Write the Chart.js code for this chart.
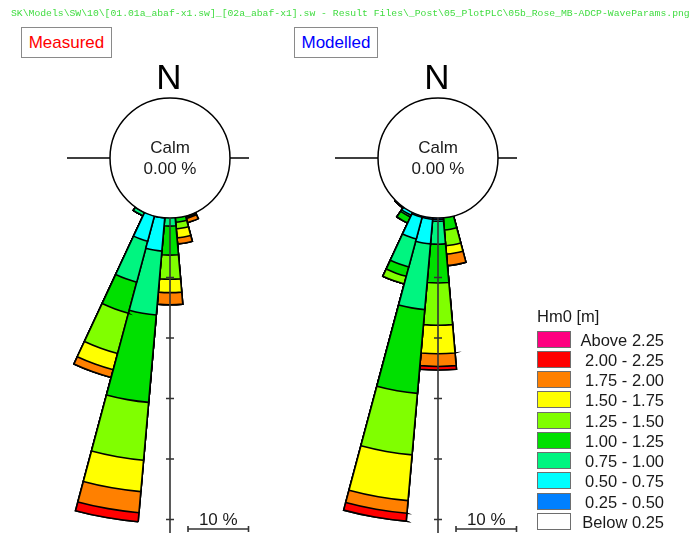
<!DOCTYPE html>
<html>
<head>
<meta charset="utf-8">
<script src="https://cdn.jsdelivr.net/npm/chart.js@4.4.1/dist/chart.umd.min.js"></script>
<style>
  html, body { margin: 0; padding: 0; background: #fff; }
  #page { position: relative; width: 692px; height: 533px; overflow: hidden;
          font-family: 'Liberation Sans', Arial, sans-serif; }
  #page canvas { position: absolute; left: 0; top: 0; }
  .t { position: absolute; line-height: 1; white-space: nowrap; }
  .box { position: absolute; box-sizing: border-box; border: 1.5px solid #8a8a8a;
         display: flex; align-items: center; justify-content: center;
         font-size: 17px; line-height: 1; background: #fff; }
  .sw { position: absolute; box-sizing: border-box; border: 1px solid #6e6e6e; width: 34px; height: 17px; }
  #path { left: 11px; top: 8.5px; font-family: 'Liberation Mono', 'DejaVu Sans Mono', monospace;
          font-size: 9.75px; color: #40dc40; }
</style>
</head>
<body>
<div id="page">
  <canvas id="roseMeasured" width="692" height="533"></canvas>
  <canvas id="roseModelled" width="692" height="533"></canvas>
  <div class="t" id="path">SK\Models\SW\10\[01.01a_abaf-x1.sw]_[02a_abaf-x1].sw - Result Files\_Post\05_PlotPLC\05b_Rose_MB-ADCP-WaveParams.png</div>
  <div class="box" style="left:21px;top:27px;width:91px;height:31px;color:#ff0000;">Measured</div>
  <div class="box" style="left:294px;top:27px;width:84px;height:31px;color:#0000ff;">Modelled</div>
  <div id="overlay"></div>
</div>
<script>
// Direction sectors of the rose (10 degree bins, clockwise from north)
const directionLabels = ['0°', '10°', '20°', '30°', '40°', '50°', '60°', '70°', '80°', '90°',
  '100°', '110°', '120°', '130°', '140°', '150°', '160°', '170°', '180°', '190°',
  '200°', '210°', '220°', '230°', '240°', '250°', '260°', '270°', '280°', '290°',
  '300°', '310°', '320°', '330°', '340°', '350°'];

// Sectors holding any occurrence
const sectorDirections = [160, 170, 180, 190, 200, 210, 220];

// Wave height classes, Hm0 [m]
const hm0Classes = ['Below 0.25', '0.25 - 0.50', '0.50 - 0.75', '0.75 - 1.00', '1.00 - 1.25',
  '1.25 - 1.50', '1.50 - 1.75', '1.75 - 2.00', '2.00 - 2.25', 'Above 2.25'];
const hm0Colors = ['#ffffff', '#0080ff', '#00ffff', '#00f580', '#00e000',
  '#80ff00', '#ffff00', '#ff8000', '#ff0000', '#ff0080'];

// Measured: frequency of occurrence [%] per sector (160 ... 220 deg)
const measuredBelow025 = [0, 0, 0, 0, 0, 0, 0];
const measured025to050 = [0, 0, 0, 0.2, 0, 0, 0];
const measured050to075 = [0, 0, 0, 5.5, 4.5, 0.2, 0];
const measured075to100 = [0, 0, 1.5, 10.6, 7.0, 0.6, 0];
const measured100to125 = [0.2, 0.9, 4.8, 14.5, 5.3, 0, 0];
const measured125to150 = [0.2, 1.1, 4.0, 9.6, 6.9, 0, 0];
const measured150to175 = [0.2, 1.5, 2.2, 5.2, 2.8, 0, 0];
const measured175to200 = [0.7, 1.0, 2.0, 3.5, 1.3, 0, 0];
const measured200to225 = [0, 0, 0, 1.5, 0, 0, 0];
const measuredAbove225 = [0, 0, 0, 0, 0, 0, 0];

// Modelled: frequency of occurrence [%] per sector (160 ... 220 deg)
const modelledBelow025 = [0, 0, 0, 0, 0, 0, 0];
const modelled025to050 = [0, 0, 0.4, 0.4, 0.4, 0, 0.1];
const modelled050to075 = [0, 0, 0.3, 4.1, 3.7, 0.7, 0.2];
const modelled075to100 = [0, 0, 3.8, 10.9, 4.8, 0.3, 0];
const modelled100to125 = [0, 2.2, 6.4, 13.9, 1.6, 1.1, 0];
const modelled125to150 = [0, 2.6, 7.0, 10.2, 1.3, 0, 0];
const modelled150to175 = [0, 1.4, 4.7, 7.6, 0, 0, 0];
const modelled175to200 = [0, 1.9, 2.1, 2.1, 0, 0, 0];
const modelled200to225 = [0, 0, 0.6, 1.3, 0, 0, 0];
const modelledAbove225 = [0, 0, 0, 0, 0, 0, 0];

// Unlabelled ticks on the south axis [%]
const axisTickValues = [10, 20, 30, 40, 50];
const scaleBarValue = 10;
const calmPercent = '0.00 %';

const measuredSeries = [measuredBelow025, measured025to050, measured050to075, measured075to100,
  measured100to125, measured125to150, measured150to175, measured175to200, measured200to225, measuredAbove225];
const modelledSeries = [modelledBelow025, modelled025to050, modelled050to075, modelled075to100,
  modelled100to125, modelled125to150, modelled150to175, modelled175to200, modelled200to225, modelledAbove225];

// Radial scale: calm circle of 59 px, 6.05 px per percent, drawing area 158 px
const CALM_PX = 59, PX_PER_PCT = 6.05, DRAW_AREA = 158;
const SCALE_MIN = -CALM_PX / PX_PER_PCT;
const SCALE_MAX = SCALE_MIN + DRAW_AREA / PX_PER_PCT;

// Stacked bars: each class drawn as an arc out to its cumulative value,
// inner classes on top (dataset 0 is painted last).
function stackedDatasets(series) {
  const running = directionLabels.map(() => 0);
  return series.map((values, k) => {
    values.forEach((v, j) => { running[sectorDirections[j] / 10] += v; });
    return {
      label: hm0Classes[k],
      data: running.slice(),
      backgroundColor: hm0Colors[k],
      borderColor: '#000',
      borderWidth: 1.6,
      borderJoinStyle: 'miter',
      clip: false
    };
  });
}

// Calm circle, east-west bar, south axis with ticks and the 10 % scale bar
const roseFrame = {
  id: 'roseFrame',
  afterDatasetsDraw(chart) {
    const s = chart.scales.r;
    const ctx = chart.ctx;
    const cx = s.xCenter, cy = s.yCenter;
    const r0 = s.getDistanceFromCenterForValue(0);
    const calmR = r0 + 1;
    ctx.save();
    ctx.strokeStyle = '#000';
    ctx.lineWidth = 1.5;
    ctx.beginPath();
    ctx.arc(cx, cy, calmR, 0, Math.PI * 2);
    ctx.fillStyle = '#fff';
    ctx.fill();
    ctx.stroke();

    ctx.lineWidth = 1.3;
    ctx.beginPath();
    ctx.moveTo(cx - 103, cy); ctx.lineTo(cx - calmR, cy);
    ctx.moveTo(cx + calmR, cy); ctx.lineTo(cx + 79, cy);
    ctx.stroke();

    ctx.strokeStyle = '#333';
    ctx.lineWidth = 1.6;
    ctx.beginPath();
    ctx.moveTo(cx, cy + calmR);
    ctx.lineTo(cx, 533);
    axisTickValues.forEach(v => {
      const y = cy + s.getDistanceFromCenterForValue(v);
      ctx.moveTo(cx - 4, y); ctx.lineTo(cx + 4, y);
    });
    ctx.stroke();

    const len = s.getDistanceFromCenterForValue(scaleBarValue) - r0;
    const x0 = cx + 18, yb = 529;
    ctx.beginPath();
    ctx.moveTo(x0, yb); ctx.lineTo(x0 + len, yb);
    ctx.moveTo(x0, yb - 3); ctx.lineTo(x0, yb + 3);
    ctx.moveTo(x0 + len, yb - 3); ctx.lineTo(x0 + len, yb + 3);
    ctx.stroke();
    ctx.restore();
  }
};

function makeRose(canvasId, series, centreX) {
  return new Chart(document.getElementById(canvasId), {
    type: 'polarArea',
    data: { labels: directionLabels, datasets: stackedDatasets(series) },
    options: {
      responsive: false,
      animation: false,
      devicePixelRatio: 1,
      events: [],
      layout: { padding: { left: centreX - 170, right: 692 - centreX - 170, top: 0, bottom: 217 } },
      plugins: { legend: { display: false }, tooltip: { enabled: false }, title: { display: false } },
      scales: {
        r: { display: false, min: SCALE_MIN, max: SCALE_MAX, startAngle: -5 }
      }
    },
    plugins: [roseFrame]
  });
}

const roses = [
  makeRose('roseMeasured', measuredSeries, 170),
  makeRose('roseModelled', modelledSeries, 438)
];

// Text labels
const overlay = document.getElementById('overlay');
function addText(text, left, top, size, opts = {}) {
  const d = document.createElement('div');
  d.className = 't';
  d.textContent = text;
  d.style.left = left + 'px';
  d.style.top = top + 'px';
  d.style.fontSize = size + 'px';
  d.style.color = opts.color || '#1a1a1a';
  if (opts.width) { d.style.width = opts.width + 'px'; d.style.textAlign = opts.align || 'center'; }
  overlay.appendChild(d);
  return d;
}
function baselineTop(baseline, size) { return baseline - 0.8465 * size; }

roses.forEach(chart => {
  const s = chart.scales.r;
  const cx = s.xCenter;
  addText('N', cx - 51, baselineTop(88.3, 35), 35, { width: 100, color: '#000' });
  addText('Calm', cx - 50, baselineTop(153, 17), 17, { width: 100 });
  addText(calmPercent, cx - 50, baselineTop(174, 17), 17, { width: 100 });
  const len = s.getDistanceFromCenterForValue(scaleBarValue) - s.getDistanceFromCenterForValue(0);
  addText(scaleBarValue + ' %', cx + 18 + len / 2 - 40, baselineTop(525.5, 17), 17, { width: 80 });
});

// Legend
addText('Hm0 [m]', 537, baselineTop(322, 16.5), 16.5);
for (let i = 0; i < hm0Classes.length; i++) {
  const k = hm0Classes.length - 1 - i;
  const top = 330.7 + 20.25 * i;
  const sw = document.createElement('div');
  sw.className = 'sw';
  sw.style.left = '537px';
  sw.style.top = top + 'px';
  sw.style.background = hm0Colors[k];
  overlay.appendChild(sw);
  addText(hm0Classes[k], 564, baselineTop(top + 14.8, 16.5), 16.5, { width: 100, align: 'right' });
}
</script>
</body>
</html>
